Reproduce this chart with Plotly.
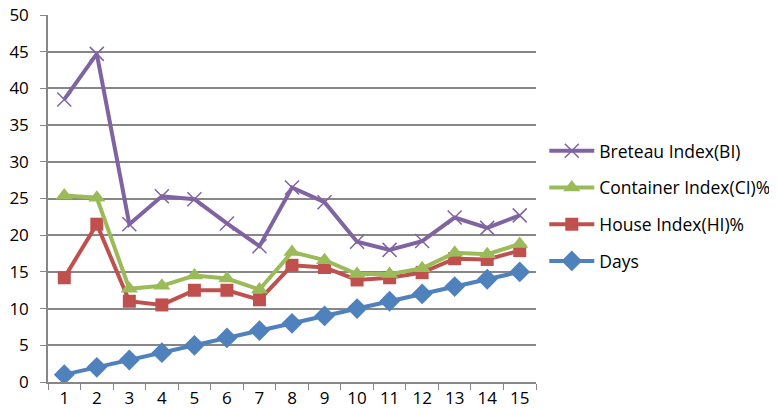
import plotly.graph_objects as go

days = list(range(1, 16))
breteau = [38.5, 44.7, 21.5, 25.3, 24.9, 21.6, 18.5, 26.5, 24.5, 19.1, 18.0, 19.2, 22.4, 21.0, 22.7]
container = [25.4, 25.1, 12.7, 13.1, 14.5, 14.1, 12.6, 17.7, 16.6, 14.7, 14.7, 15.5, 17.6, 17.4, 18.8]
house = [14.2, 21.5, 11.0, 10.5, 12.5, 12.5, 11.2, 15.9, 15.6, 13.9, 14.2, 14.9, 16.8, 16.7, 17.9]
day_values = [1, 2, 3, 4, 5, 6, 7, 8, 9, 10, 11, 12, 13, 14, 15]

theme = {'days': '#4F81BD', 'house': '#C0504D', 'container': '#9BBB59', 'bi': '#8064A2', 'grid': '#878787'}
x_labels = [str(d) for d in days]

fig = go.Figure()
fig.add_trace(go.Scatter(x=x_labels, y=day_values, name="Days", mode="lines+markers",
                         legendgroup='d', legendrank=4, line={'color': theme['days'], 'width': 4},
                         marker={'symbol': 'diamond', 'size': 16, 'color': theme['days']}))
fig.add_trace(go.Scatter(x=x_labels, y=house, name="House Index(HI)%", mode="lines+markers",
                         legendgroup='h', legendrank=3, line={'color': theme['house'], 'width': 4},
                         marker={'symbol': 'square', 'size': 13, 'color': theme['house']}))
fig.add_trace(go.Scatter(x=x_labels, y=container, name="Container Index(CI)%", mode="lines+markers",
                         legendgroup='c', legendrank=2, line={'color': theme['container'], 'width': 4},
                         marker={'symbol': 'triangle-up', 'size': 15, 'color': theme['container']}))
fig.add_trace(go.Scatter(x=x_labels, y=breteau, name="Breteau Index(BI)", mode="lines+markers",
                         legendgroup='b', legendrank=1, line={'color': theme['bi'], 'width': 4},
                         marker={'symbol': 'x-thin', 'size': 14, 'color': theme['bi'],
                                 'line': {'color': theme['bi'], 'width': 1.5}}))

font = {'family': 'Open Sans, sans-serif', 'size': 17, 'color': 'black'}
fig.update_layout(
    width=777, height=408,
    margin={'l': 40, 'r': 249, 't': 7, 'b': 34, 'autoexpand': False},
    paper_bgcolor='white', plot_bgcolor='white',
    font=font,
    showlegend=True,
    legend={'x': 1.017, 'y': 0.48, 'xanchor': 'left', 'yanchor': 'middle',
            'traceorder': 'grouped', 'itemwidth': 45,
            'font': {'family': 'Open Sans, sans-serif', 'size': 17.5, 'color': 'black'},
            'tracegroupgap': 11},
)
fig.update_xaxes(type='category', tickson='boundaries', ticks='outside', ticklen=6,
                 tickcolor=theme['grid'], showgrid=False, showline=True,
                 linecolor=theme['grid'], linewidth=1.5, range=[-0.5, 14.5],
                 ticklabelstandoff=0, automargin=False)
fig.update_yaxes(range=[0, 50], tickvals=list(range(0, 51, 5)), ticks='outside', ticklen=6,
                 tickcolor=theme['grid'], showgrid=True, gridcolor=theme['grid'], gridwidth=1.5,
                 showline=True, linecolor=theme['grid'], linewidth=1.5, zeroline=False,
                 ticklabeloverflow='allow', ticklabelstandoff=8, automargin=False)

fig.write_html("out.html")
